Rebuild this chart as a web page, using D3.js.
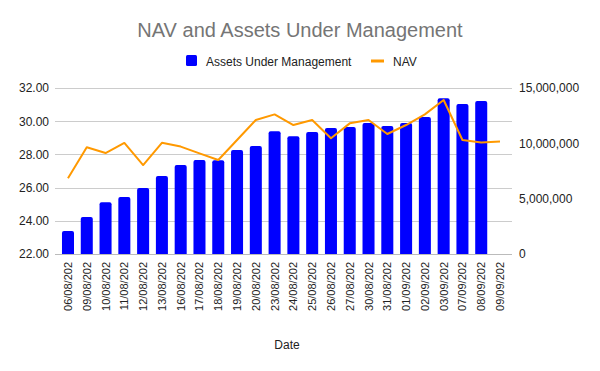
<!DOCTYPE html>
<html>
<head>
<meta charset="utf-8">
<script src="https://cdn.jsdelivr.net/npm/d3@7"></script>
<style>
  body { margin: 0; background: #fff; }
  text { font-family: "Liberation Sans", Arial, sans-serif; }
</style>
</head>
<body>
<svg id="chart" width="600" height="371"></svg>
<script>
// chart data
var dates = ["06/08/202", "09/08/202", "10/08/202", "11/08/202", "12/08/202", "13/08/202",
  "16/08/202", "17/08/202", "18/08/202", "19/08/202", "20/08/202", "23/08/202", "24/08/202",
  "25/08/202", "26/08/202", "27/08/202", "30/08/202", "31/08/202", "01/09/202", "02/09/202",
  "03/09/202", "07/09/202", "08/09/202", "09/09/202"];
var aum = [2080000, 3350000, 4670000, 5150000, 5970000, 7050000, 8040000, 8490000, 8470000,
  9390000, 9750000, 11100000, 10650000, 11030000, 11390000, 11480000, 11840000, 11570000,
  11840000, 12380000, 14070000, 13560000, 13830000, null];
var nav = [26.56, 28.43, 28.08, 28.69, 27.36, 28.70, 28.47, 28.06, 27.66, 28.87, 30.07, 30.41,
  29.77, 30.07, 28.97, 29.87, 30.07, 29.23, 29.77, 30.41, 31.28, 28.87, 28.71, 28.77];
var navTicks = [22, 24, 26, 28, 30, 32];
var aumTicks = [0, 5000000, 10000000, 15000000];

var svg = d3.select("#chart");
var plotL = 58.6, plotR = 509.4, plotT = 88, plotB = 254;

var x = d3.scaleBand().domain(dates).range([plotL, plotR]).paddingInner(0.36).paddingOuter(0.18);
var yL = d3.scaleLinear().domain([22, 32]).range([plotB, plotT]);
var yR = d3.scaleLinear().domain([0, 15000000]).range([plotB, plotT]);

// title
svg.append("text").attr("x", 300).attr("y", 37).attr("text-anchor", "middle")
  .attr("font-size", 20).attr("fill", "#757575").text("NAV and Assets Under Management");

// legend
var lg = svg.append("g");
lg.append("rect").attr("x", 186).attr("y", 55).attr("width", 11).attr("height", 11).attr("rx", 1.5)
  .attr("fill", "#0000ff");
lg.append("text").attr("x", 206).attr("y", 65.5).attr("font-size", 12).attr("fill", "#222")
  .text("Assets Under Management");
lg.append("line").attr("x1", 371).attr("x2", 384).attr("y1", 61).attr("y2", 61)
  .attr("stroke", "#ff9900").attr("stroke-width", 3);
lg.append("text").attr("x", 393).attr("y", 65.5).attr("font-size", 12).attr("fill", "#222")
  .text("NAV");

// gridlines
svg.append("g").selectAll("line").data(navTicks).join("line")
  .attr("x1", 55).attr("x2", 512)
  .attr("y1", d => Math.round(yL(d)) + 0.5).attr("y2", d => Math.round(yL(d)) + 0.5)
  .attr("stroke", d => d === 22 ? "#bbb" : "#ccc");

// left axis
var axL = svg.append("g").attr("transform", "translate(49,0)")
  .call(d3.axisLeft(yL).tickValues(navTicks).tickFormat(d3.format(".2f")).tickSize(0).tickPadding(0));
axL.select(".domain").remove();
axL.selectAll("text").attr("font-size", 12).attr("fill", "#222").attr("font-family", "Liberation Sans, Arial");

// right axis
var axR = svg.append("g").attr("transform", "translate(519,0)")
  .call(d3.axisRight(yR).tickValues(aumTicks).tickFormat(d3.format(",")).tickSize(0).tickPadding(0));
axR.select(".domain").remove();
axR.selectAll("text").attr("font-size", 12).attr("fill", "#222").attr("font-family", "Liberation Sans, Arial");

// bars with rounded tops
function barPath(d, i) {
  var x0 = x(dates[i]), w = x.bandwidth(), y0 = yR(d), r = 2;
  return "M" + x0 + "," + plotB + "V" + (y0 + r) + "Q" + x0 + "," + y0 + " " + (x0 + r) + "," + y0 +
    "H" + (x0 + w - r) + "Q" + (x0 + w) + "," + y0 + " " + (x0 + w) + "," + (y0 + r) + "V" + plotB + "Z";
}
svg.append("g").selectAll("path").data(aum).join("path")
  .attr("d", (d, i) => d === null ? null : barPath(d, i))
  .attr("fill", "#0000ff");

// NAV line
var line = d3.line().x((d, i) => x(dates[i]) + x.bandwidth() / 2).y(d => yL(d));
svg.append("path").datum(nav).attr("d", line)
  .attr("fill", "none").attr("stroke", "#ff9900").attr("stroke-width", 2).attr("stroke-linejoin", "round");

// x labels
svg.append("g").selectAll("text").data(dates).join("text")
  .attr("transform", d => "translate(" + (x(d) + x.bandwidth() / 2 + 4) + ",262) rotate(-90)")
  .attr("text-anchor", "end").attr("font-size", 11).attr("fill", "#222")
  .text(d => d);

// x axis title
svg.append("text").attr("x", 287).attr("y", 349).attr("text-anchor", "middle")
  .attr("font-size", 12).attr("fill", "#222").text("Date");
</script>
</body>
</html>
